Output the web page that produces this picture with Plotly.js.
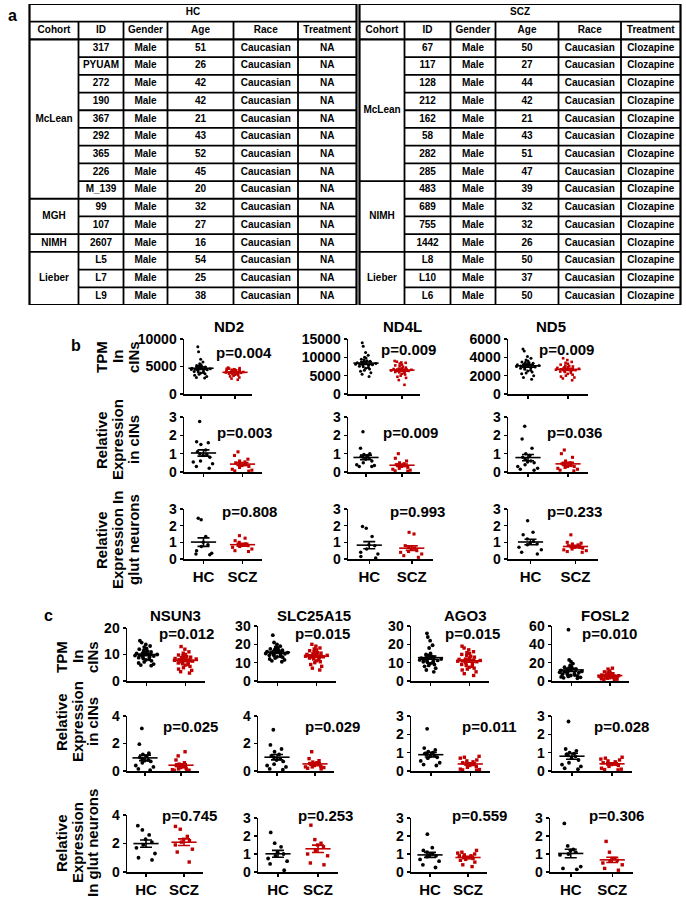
<!DOCTYPE html>
<html><head><meta charset="utf-8">
<script src="https://cdn.plot.ly/plotly-3.0.1.min.js"></script>
<style>html,body{margin:0;padding:0;background:#fff}#chart{width:686px;height:900px}</style>
</head><body><div id="chart"></div>
<script>
// ================= TABLE DATA =================
const tableColumns = ['Cohort','ID','Gender','Age','Race','Treatment'];
const hcCohorts = ['McLean','MGH','NIMH','Lieber'];
const hcCohortSizes = [9,2,1,3];
const hcIDs = ['317','PYUAM','272','190','367','292','365','226','M_139','99','107','2607','L5','L7','L9'];
const hcGender = ['Male','Male','Male','Male','Male','Male','Male','Male','Male','Male','Male','Male','Male','Male','Male'];
const hcAge = [51,26,42,42,21,43,52,45,20,32,27,16,54,25,38];
const hcRace = ['Caucasian','Caucasian','Caucasian','Caucasian','Caucasian','Caucasian','Caucasian','Caucasian','Caucasian','Caucasian','Caucasian','Caucasian','Caucasian','Caucasian','Caucasian'];
const hcTreatment = ['NA','NA','NA','NA','NA','NA','NA','NA','NA','NA','NA','NA','NA','NA','NA'];
const sczCohorts = ['McLean','NIMH','Lieber'];
const sczCohortSizes = [8,4,3];
const sczIDs = ['67','117','128','212','162','58','282','285','483','689','755','1442','L8','L10','L6'];
const sczGender = ['Male','Male','Male','Male','Male','Male','Male','Male','Male','Male','Male','Male','Male','Male','Male'];
const sczAge = [50,27,44,42,21,43,51,47,39,32,32,26,50,37,50];
const sczRace = ['Caucasian','Caucasian','Caucasian','Caucasian','Caucasian','Caucasian','Caucasian','Caucasian','Caucasian','Caucasian','Caucasian','Caucasian','Caucasian','Caucasian','Caucasian'];
const sczTreatment = ['Clozapine','Clozapine','Clozapine','Clozapine','Clozapine','Clozapine','Clozapine','Clozapine','Clozapine','Clozapine','Clozapine','Clozapine','Clozapine','Clozapine','Clozapine'];

// ================= PANEL B DATA =================
const groupLabels = ['HC','SCZ'];
const ND2_TPM_HC = [8600,7700,6300,5800,5500,5300,5200,5100,5000,4900,4850,4800,4700,4650,4600,4500,4450,4400,4300,4200,4100,4000,3900,3800,3700,3600,3400,3200,3000,2900];
const ND2_TPM_SCZ = [4800,4700,4600,4600,4500,4450,4400,4400,4350,4300,4300,4250,4200,4150,4100,4050,4000,3950,3900,3850,3800,3750,3700,3650,3600,3500,3400,3300,3200,3000,2800,2600];
const ND4L_TPM_HC = [14000,13000,11300,10600,10000,9800,9500,9300,9100,8900,8700,8600,8500,8400,8300,8200,8100,8000,7900,7800,7600,7400,7200,7000,6800,6500,6200,5800,5400,4800];
const ND4L_TPM_SCZ = [9000,8800,8600,8500,8300,8000,7800,7600,7400,7200,7000,6900,6800,6700,6600,6500,6400,6300,6200,6100,6000,5900,5700,5500,5300,5000,4700,4400,3800,2500];
const ND5_TPM_HC = [4900,4700,4100,3900,3700,3600,3500,3450,3400,3350,3300,3250,3200,3150,3100,3050,3000,2950,2900,2850,2800,2700,2600,2500,2400,2300,2200,2000,1800,1600];
const ND5_TPM_SCZ = [3900,3700,3500,3400,3300,3200,3100,3050,3000,2950,2900,2850,2800,2750,2700,2650,2600,2550,2500,2450,2400,2300,2200,2100,2000,1900,1800,1700,1500];

const ND2_CIN_HC = [2.75,1.65,1.6,1.5,1.2,1.1,1.0,0.95,0.9,0.8,0.6,0.55,0.45,0.3,0.2];
const ND2_CIN_SCZ = [1.1,0.9,0.7,0.6,0.55,0.5,0.45,0.4,0.35,0.3,0.25,0.15,0.1,0.06,0.05];
const ND4L_CIN_HC = [2.2,1.3,1.0,0.95,0.9,0.85,0.8,0.75,0.7,0.6,0.5,0.4,0.35,0.3,0.3];
const ND4L_CIN_SCZ = [1.0,0.75,0.6,0.5,0.45,0.4,0.38,0.35,0.3,0.25,0.2,0.15,0.1,0.06,0.05];
const ND5_CIN_HC = [2.5,1.8,1.3,1.0,0.9,0.8,0.7,0.6,0.55,0.5,0.4,0.3,0.2,0.15,0.1];
const ND5_CIN_SCZ = [1.2,1.0,0.8,0.6,0.5,0.45,0.4,0.35,0.3,0.3,0.25,0.2,0.15,0.1,0.06];

const ND2_GLUT_HC = [2.45,2.35,1.35,1.0,0.85,0.75,0.5,0.35,0.3,0.25];
const ND2_GLUT_SCZ = [1.4,1.25,1.1,1.0,0.9,0.85,0.8,0.75,0.7,0.6,0.5,0.45];
const ND4L_GLUT_HC = [1.95,1.85,1.35,0.85,0.8,0.6,0.4,0.3,0.15,0.06];
const ND4L_GLUT_SCZ = [1.6,1.5,0.8,0.7,0.65,0.6,0.5,0.45,0.4,0.3,0.2,0.1];
const ND5_GLUT_HC = [2.3,1.6,1.45,1.2,1.05,0.95,0.9,0.85,0.7,0.55,0.4,0.3];
const ND5_GLUT_SCZ = [1.45,1.0,0.95,0.9,0.85,0.8,0.75,0.7,0.7,0.65,0.6,0.55,0.5,0.45,0.4];

// ================= PANEL C DATA =================
const NSUN3_TPM_HC = [15.2,14.5,13.8,13.2,12.8,12.3,12,11.6,11.3,11,10.8,10.6,10.4,10.2,10,9.8,9.6,9.4,9.2,9,8.8,8.5,8.2,8,7.6,7.2,6.8,6.4,6,5.8];
const NSUN3_TPM_SCZ = [13,12,11,10.5,10,9.8,9.5,9.2,9,9,8.8,8.5,8.5,8.3,8,7.8,7.5,7.2,7,6.8,6.5,6.2,6,5.5,5,4.5,4,3.5,3];
const SLC25A15_TPM_HC = [25,21,20,19,18.5,18,17.5,17.2,17,16.8,16.5,16.2,16,15.8,15.5,15.3,15,14.8,14.5,14.2,14,13.8,13.5,13.2,13,12.5,12,11.5,11,10.5];
const SLC25A15_TPM_SCZ = [20,19,18,17.5,17,16.5,16,15.5,15.2,15,14.8,14.5,14.2,14,13.8,13.5,13.2,13,12.8,12.5,12,11.5,11,10.5,10,9,8,7,6];
const AGO3_TPM_HC = [26,24,22,19.5,18,15,14.5,14,13,12.8,13.5,13,12.5,12.2,12,11.8,11.5,11.2,11,10.8,10.5,10.2,10,9.5,9,8.5,8,7,6,5];
const AGO3_TPM_SCZ = [19,18,17,16,15.5,15,14.5,14,13.5,13,12.5,12,11.8,11.5,11.2,11,10.8,10.5,10,9.5,9,8.5,8,7.5,7,6.5,6,5,4,3];
const FOSL2_TPM_HC = [56,23,21,19,17,16,15,14,13.5,13,12.5,12,11.5,11,10.5,10,9.5,9,8.5,8,7.5,7,6.5,6,5.5,5,4.5,4,3.5,3];
const FOSL2_TPM_SCZ = [14,13,11,10,9,8.5,8,7.5,7,6.5,6,5.8,5.5,5.2,5,4.8,4.5,4.2,4,3.8,3.5,3.2,3,2.5,2,1.5,1];

const NSUN3_CIN_HC = [3.1,1.95,1.3,1.2,1.1,1.0,0.9,0.8,0.75,0.7,0.6,0.4,0.3,0.15,0.06];
const NSUN3_CIN_SCZ = [1.4,1.1,0.8,0.6,0.5,0.45,0.4,0.35,0.3,0.25,0.2,0.15,0.1,0.06,0.05,0.04];
const SLC25A15_CIN_HC = [3.0,1.9,1.6,1.4,1.2,1.1,1.0,0.9,0.8,0.7,0.5,0.4,0.3,0.15,0.1];
const SLC25A15_CIN_SCZ = [1.4,0.9,0.75,0.65,0.6,0.55,0.5,0.45,0.4,0.35,0.3,0.3,0.25,0.2,0.15];
const AGO3_CIN_HC = [2.3,1.25,1.15,1.05,1.0,0.95,0.9,0.85,0.8,0.75,0.7,0.55,0.45,0.35,0.3];
const AGO3_CIN_SCZ = [0.8,0.75,0.7,0.6,0.55,0.5,0.45,0.4,0.35,0.3,0.25,0.2,0.1,0.08,0.06,0.05];
const FOSL2_CIN_HC = [2.7,1.2,1.1,1.0,0.95,0.9,0.85,0.8,0.7,0.6,0.45,0.35,0.25,0.15,0.1];
const FOSL2_CIN_SCZ = [0.75,0.7,0.65,0.6,0.55,0.5,0.45,0.4,0.38,0.35,0.3,0.25,0.15,0.1,0.08,0.06];

const NSUN3_GLUT_HC = [3.25,2.95,2.6,2.3,2.1,1.9,1.7,1.3,1.0,0.85];
const NSUN3_GLUT_SCZ = [3.2,3.0,2.5,2.3,2.2,2.1,1.9,1.6,1.4,0.7];
const SLC25A15_GLUT_HC = [2.2,1.6,1.4,1.1,1.0,0.9,0.75,0.6,0.45,0.1];
const SLC25A15_GLUT_SCZ = [2.6,1.8,1.6,1.5,1.4,1.2,1.0,0.9,0.5,0.4];
const AGO3_GLUT_HC = [2.1,1.35,1.2,1.1,1.0,0.95,0.9,0.85,0.7,0.6,0.4,0.25];
const AGO3_GLUT_SCZ = [1.2,1.1,1.05,1.0,0.95,0.9,0.9,0.85,0.8,0.8,0.75,0.7,0.65,0.55,0.4,0.3];
const FOSL2_GLUT_HC = [2.7,1.45,1.25,1.2,1.1,1.0,0.95,0.3,0.2,0.15];
const FOSL2_GLUT_SCZ = [1.7,1.1,0.75,0.65,0.75,0.6,0.5,0.4,0.2,0.1];

// p-values
const pB = [['p=0.004','p=0.009','p=0.009'],['p=0.003','p=0.009','p=0.036'],['p=0.808','p=0.993','p=0.233']];
const pC = [['p=0.012','p=0.015','p=0.015','p=0.010'],['p=0.025','p=0.029','p=0.011','p=0.028'],['p=0.745','p=0.253','p=0.559','p=0.306']];
const genesB = ['ND2','ND4L','ND5'];
const genesC = ['NSUN3','SLC25A15','AGO3','FOSL2'];

// ================= STYLE / LAYOUT =================
const W = 686, H = 900;
const FONT = 'Liberation Sans, Arial, sans-serif';
const RED = '#c00000', BLACK = '#000000';
const px = x => x / W, py = y => 1 - y / H;
function mean(a){return a.reduce((s,v)=>s+v,0)/a.length;}
function sem(a){const m=mean(a);const v=a.reduce((s,x)=>s+(x-m)*(x-m),0)/(a.length-1);return Math.sqrt(v/a.length);}

const traces = [];
const layout = {
  width: W, height: H, autosize: false,
  margin: {l:0, r:0, t:0, b:0},
  paper_bgcolor: '#fff', plot_bgcolor: 'rgba(0,0,0,0)',
  showlegend: false, shapes: [], annotations: [],
  boxmode: 'overlay'
};

// ---------- Table ----------
const tblTop = 4, tblBot = 305, nRows = 17;
layout.xaxis = {domain:[0,1], range:[0,W], visible:false, fixedrange:true};
layout.yaxis = {domain:[py(tblBot), py(tblTop)], range:[nRows,0], visible:false, fixedrange:true};
const halves = [
  {title:'HC', start:29.5, widths:[49,45,44,66,64.5,58.5], cohorts:hcCohorts, sizes:hcCohortSizes,
   cols:[hcIDs,hcGender,hcAge,hcRace,hcTreatment]},
  {title:'SCZ', start:359.5, widths:[45,46,45,63,62.5,59.5], cohorts:sczCohorts, sizes:sczCohortSizes,
   cols:[sczIDs,sczGender,sczAge,sczRace,sczTreatment]}
];
const tx=[], ty=[], tt=[];
const LW = 1.8;
halves.forEach(h => {
  const b=[h.start]; h.widths.forEach(w=>b.push(b[b.length-1]+w));
  const x0=b[0], x1=b[b.length-1];
  layout.shapes.push({type:'rect', xref:'x', yref:'y', x0:x0, x1:x1, y0:0, y1:nRows, line:{color:BLACK,width:2.2}});
  layout.shapes.push({type:'line', xref:'x', yref:'y', x0:x0, x1:x1, y0:1, y1:1, line:{color:BLACK,width:LW}});
  layout.shapes.push({type:'line', xref:'x', yref:'y', x0:x0, x1:x1, y0:2, y1:2, line:{color:BLACK,width:2.2}});
  for (let c=1;c<b.length-1;c++) layout.shapes.push({type:'line', xref:'x', yref:'y', x0:b[c], x1:b[c], y0:1, y1:nRows, line:{color:BLACK,width:LW}});
  const groupEnds = []; let acc=0; h.sizes.forEach(s=>{acc+=s; groupEnds.push(acc);});
  for (let r=1;r<15;r++){
    const isGroup = groupEnds.includes(r);
    layout.shapes.push({type:'line', xref:'x', yref:'y', x0:isGroup?b[0]:b[1], x1:x1, y0:2+r, y1:2+r, line:{color:BLACK,width:LW}});
  }
  tx.push((x0+x1)/2); ty.push(0.5); tt.push(h.title);
  tableColumns.forEach((name,c)=>{tx.push((b[c]+b[c+1])/2); ty.push(1.5); tt.push(name);});
  let s0=0;
  h.cohorts.forEach((name,g)=>{tx.push((b[0]+b[1])/2); ty.push(2+s0+h.sizes[g]/2); tt.push(name); s0+=h.sizes[g];});
  h.cols.forEach((col,c)=>{col.forEach((v,r)=>{tx.push((b[c+1]+b[c+2])/2); ty.push(2.5+r); tt.push(String(v));});});
});
traces.push({type:'scatter', mode:'text', x:tx, y:ty, text:tt, xaxis:'x', yaxis:'y',
  textfont:{family:FONT, size:10, color:BLACK, weight:'bold'}, hoverinfo:'skip', cliponaxis:false});

// ---------- Dot plots ----------
const plots = [
  // panel b row 1
  {hc:ND2_TPM_HC, scz:ND2_TPM_SCZ, x0:184, x1:252, top:339, bot:394, max:10000, tv:[0,5000,10000], ms:3},
  {hc:ND4L_TPM_HC, scz:ND4L_TPM_SCZ, x0:348, x1:420, top:339, bot:394, max:15000, tv:[0,5000,10000,15000], ms:3},
  {hc:ND5_TPM_HC, scz:ND5_TPM_SCZ, x0:508, x1:588, top:339, bot:394, max:6000, tv:[0,2000,4000,6000], ms:3},
  // panel b row 2
  {hc:ND2_CIN_HC, scz:ND2_CIN_SCZ, x0:184, x1:262, top:417, bot:472, max:3, tv:[0,1,2,3], ms:3.5},
  {hc:ND4L_CIN_HC, scz:ND4L_CIN_SCZ, x0:348, x1:420, top:417, bot:472, max:3, tv:[0,1,2,3], ms:3.5},
  {hc:ND5_CIN_HC, scz:ND5_CIN_SCZ, x0:508, x1:588, top:417, bot:472, max:3, tv:[0,1,2,3], ms:3.5},
  // panel b row 3
  {hc:ND2_GLUT_HC, scz:ND2_GLUT_SCZ, x0:184, x1:262, top:509, bot:559, max:3, tv:[0,1,2,3], ms:3.5, lab:true},
  {hc:ND4L_GLUT_HC, scz:ND4L_GLUT_SCZ, x0:348, x1:433, top:509, bot:559, max:3, tv:[0,1,2,3], ms:3.5, lab:true},
  {hc:ND5_GLUT_HC, scz:ND5_GLUT_SCZ, x0:508, x1:598, top:509, bot:559, max:3, tv:[0,1,2,3], ms:3.5, lab:true},
  // panel c row 1
  {hc:NSUN3_TPM_HC, scz:NSUN3_TPM_SCZ, x0:127, x1:205, top:628, bot:681, max:20, tv:[0,10,20], ms:3.8},
  {hc:SLC25A15_TPM_HC, scz:SLC25A15_TPM_SCZ, x0:258, x1:336, top:626, bot:681, max:30, tv:[0,10,20,30], ms:3.8},
  {hc:AGO3_TPM_HC, scz:AGO3_TPM_SCZ, x0:411, x1:489, top:626, bot:681, max:30, tv:[0,10,20,30], ms:3.8},
  {hc:FOSL2_TPM_HC, scz:FOSL2_TPM_SCZ, x0:552, x1:629, top:626, bot:681, max:60, tv:[0,20,40,60], ms:3.8},
  // panel c row 2
  {hc:NSUN3_CIN_HC, scz:NSUN3_CIN_SCZ, x0:127, x1:199, top:716, bot:771, max:4, tv:[0,2,4], ms:3.8},
  {hc:SLC25A15_CIN_HC, scz:SLC25A15_CIN_SCZ, x0:258, x1:334, top:716, bot:771, max:4, tv:[0,2,4], ms:3.8},
  {hc:AGO3_CIN_HC, scz:AGO3_CIN_SCZ, x0:411, x1:490, top:716, bot:771, max:3, tv:[0,1,2,3], ms:3.8},
  {hc:FOSL2_CIN_HC, scz:FOSL2_CIN_SCZ, x0:552, x1:632, top:716, bot:771, max:3, tv:[0,1,2,3], ms:3.8},
  // panel c row 3
  {hc:NSUN3_GLUT_HC, scz:NSUN3_GLUT_SCZ, x0:127, x1:203, top:815, bot:872, max:4, tv:[0,2,4], ms:3.8, lab:true},
  {hc:SLC25A15_GLUT_HC, scz:SLC25A15_GLUT_SCZ, x0:258, x1:338, top:818, bot:872, max:3, tv:[0,1,2,3], ms:3.8, lab:true},
  {hc:AGO3_GLUT_HC, scz:AGO3_GLUT_SCZ, x0:411, x1:487, top:818, bot:872, max:3, tv:[0,1,2,3], ms:3.8, lab:true},
  {hc:FOSL2_GLUT_HC, scz:FOSL2_GLUT_SCZ, x0:550, x1:633, top:818, bot:872, max:3, tv:[0,1,2,3], ms:3.8, lab:true}
];

plots.forEach((p,i) => {
  const n = i + 2, xa = 'x'+n, ya = 'y'+n;
  layout['xaxis'+n] = {domain:[px(p.x0), px(p.x1)], range:[-0.5,1.5], anchor:ya, type:'linear',
    tickvals:[0,1], ticktext:groupLabels, showticklabels:!!p.lab, ticks:'outside', ticklen:3, tickwidth:1.5, tickcolor:BLACK,
    showline:true, linecolor:BLACK, linewidth:1.5, showgrid:false, zeroline:false, fixedrange:true,
    tickfont:{family:FONT, size:15, color:BLACK, weight:'bold'}};
  layout['yaxis'+n] = {domain:[py(p.bot), py(p.top)], range:[0,p.max], anchor:xa,
    tickvals:p.tv, tickformat:'d', ticks:'outside', ticklen:3, tickwidth:1.5, tickcolor:BLACK,
    showline:true, linecolor:BLACK, linewidth:1.5, showgrid:false, zeroline:false, fixedrange:true,
    tickfont:{family:FONT, size:14, color:BLACK, weight:'bold'}};
  [[p.hc, BLACK, 'circle', 0], [p.scz, RED, 'square', 1]].forEach(([vals,col,sym,pos]) => {
    traces.push({type:'box', y:vals, x0:pos, xaxis:xa, yaxis:ya, width:0.62, boxpoints:'all', jitter:1, pointpos:0,
      marker:{color:col, size:sym==='square'?p.ms-0.4:p.ms, symbol:sym, line:{width:0}},
      line:{color:'rgba(0,0,0,0)', width:0}, fillcolor:'rgba(0,0,0,0)', hoverinfo:'skip', whiskerwidth:0});
  });
  [[p.hc, BLACK, 0], [p.scz, RED, 1]].forEach(([vals,col,pos]) => {
    traces.push({type:'scatter', mode:'markers', x:[pos], y:[mean(vals)], xaxis:xa, yaxis:ya, cliponaxis:false,
      marker:{symbol:'line-ew', size:18, color:col, line:{color:col, width:1.6}},
      error_y:{type:'data', array:[sem(vals)], visible:true, width:6, thickness:1.6, color:col}, hoverinfo:'skip'});
  });
});

// ---------- Annotations ----------
function ann(text, x, y, size, opt){
  layout.annotations.push(Object.assign({text:text, x:px(x), y:py(y), xref:'paper', yref:'paper', showarrow:false,
    xanchor:'center', yanchor:'middle', font:{family:FONT, size:size, color:BLACK, weight:'bold'}}, opt||{}));
}
ann('a', 12, 15, 16);
ann('b', 76, 345, 16);
ann('c', 48, 615, 16);
const titleBX = [229, 403, 551];
genesB.forEach((g,i)=>ann(g, titleBX[i], 326, 15));
const titleCX = [175, 314, 465, 605];
genesC.forEach((g,i)=>ann(g, titleCX[i], 615, 15));
const pBpos = [[[244,352],[408,349],[566,349]],[[244.5,433],[410.5,433],[574,433]],[[249,511],[417.5,511],[574,511]]];
pB.forEach((row,r)=>row.forEach((t,c)=>ann(t, pBpos[r][c][0], pBpos[r][c][1], 15)));
const pCpos = [[[186,633],[322,633],[473,633],[609,633]],[[190,726],[332.5,726],[489,726],[621,726]],[[189.5,815],[325.5,815],[479.5,815],[616,815]]];
pC.forEach((row,r)=>row.forEach((t,c)=>ann(t, pCpos[r][c][0], pCpos[r][c][1], 15)));

// row labels (rotated)
const rowLabelsB = [[['TPM','In','cINs'],357],[['Relative','Expression','in cINs'],440],[['Relative','Expression In','glut neurons'],540]];
const rowLabelXB = [101,117,133];
rowLabelsB.forEach(([lines,yc])=>lines.forEach((t,k)=>ann(t, rowLabelXB[k], yc, 15, {textangle:-90})));
const rowLabelsC = [[['TPM','In','cINs'],657],[['Relative','Expression','in cINs'],722],[['Relative','Expression','In glut neurons'],843]];
const rowLabelXC = [61,77,92];
rowLabelsC.forEach(([lines,yc])=>lines.forEach((t,k)=>ann(t, rowLabelXC[k], yc, 15, {textangle:-90})));

Plotly.newPlot('chart', traces, layout, {staticPlot:true, displayModeBar:false});
</script></body></html>
